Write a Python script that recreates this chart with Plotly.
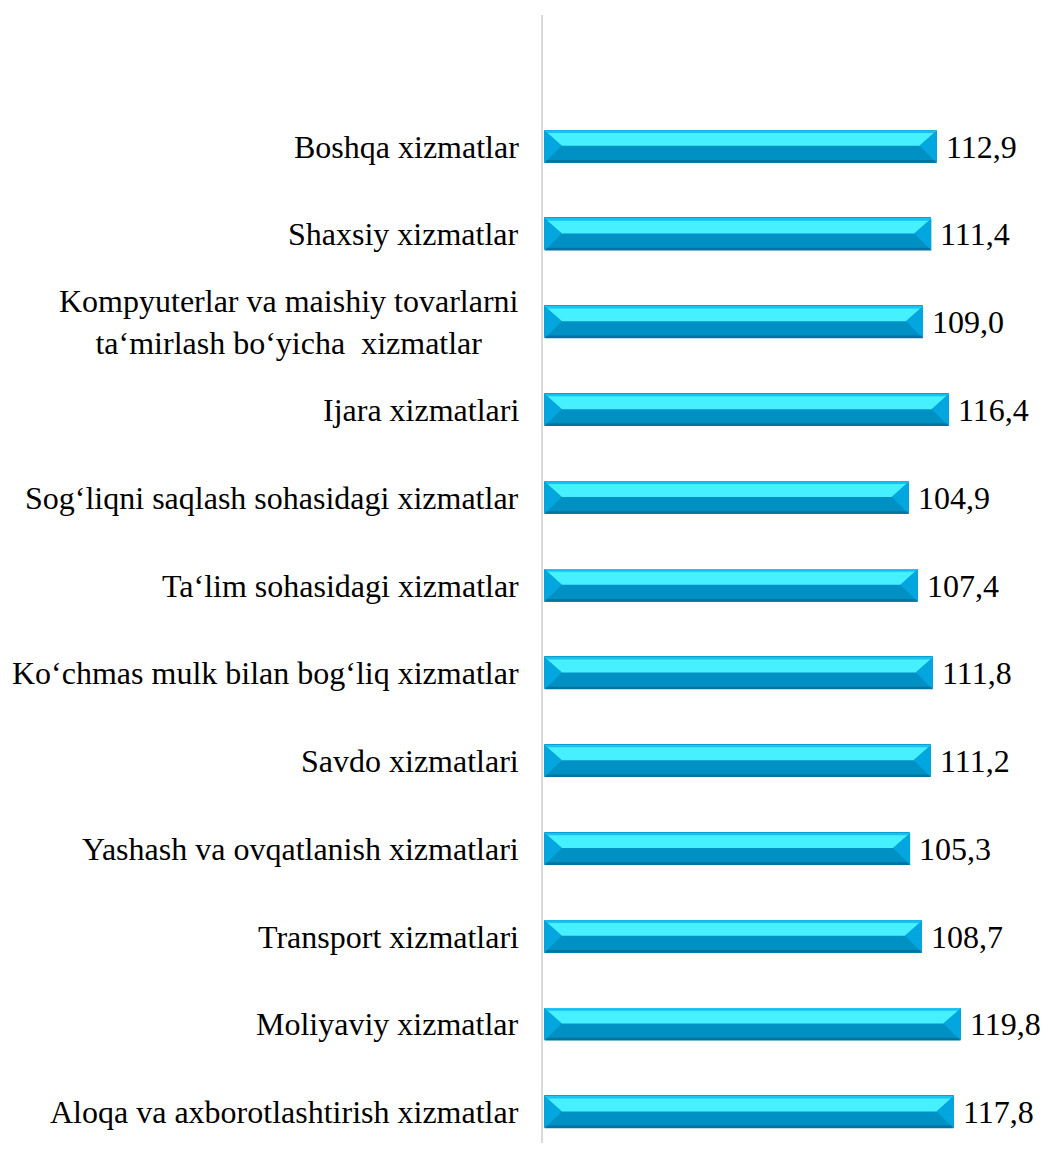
import plotly.graph_objects as go

categories = [
    "Aloqa va axborotlashtirish xizmatlar",
    "Moliyaviy xizmatlar",
    "Transport xizmatlari",
    "Yashash va ovqatlanish xizmatlari",
    "Savdo xizmatlari",
    "Ko‘chmas mulk bilan bog‘liq xizmatlar",
    "Ta‘lim sohasidagi xizmatlar",
    "Sog‘liqni saqlash sohasidagi xizmatlar",
    "Ijara xizmatlari",
    "Kompyuterlar va maishiy tovarlarni<br>ta‘mirlash bo‘yicha&nbsp; xizmatlar",
    "Shaxsiy xizmatlar",
    "Boshqa xizmatlar",
]
values = [117.8, 119.8, 108.7, 105.3, 111.2, 111.8, 107.4, 104.9, 116.4, 109.0, 111.4, 112.9]

positions = list(range(len(categories)))
FONT = "Liberation Serif, Times New Roman, serif"
H = 0.182      # half bar thickness (y units)
D = 4.9        # bevel inset (x units)

fig = go.Figure()
fig.add_trace(go.Bar(
    y=positions, x=values, orientation="h", width=2 * H,
    marker=dict(color="#0091C4", line=dict(color="#0A9ED4", width=1)),
    hoverinfo="skip", showlegend=False,
))

shapes = []
annotations = []
for p, v, c in zip(positions, values, categories):
    top, mid, bot = p + H, p + 0.01, p - H
    shapes.append(dict(type="path", xref="x", yref="y", layer="above",
                       path=f"M 0,{top} L {v},{top} L {v-D},{mid} L {D},{mid} Z",
                       fillcolor="#47F0FF", line=dict(width=0)))
    shapes.append(dict(type="path", xref="x", yref="y", layer="above",
                       path=f"M 0,{top} L {v},{top} L {v-0.6},{top-0.025} L 0.6,{top-0.025} Z",
                       fillcolor="#18C0F0", line=dict(width=0)))
    shapes.append(dict(type="path", xref="x", yref="y", layer="above",
                       path=f"M 0,{top} L {D},{mid} L 0,{bot} Z",
                       fillcolor="#03A6DE", line=dict(width=0)))
    shapes.append(dict(type="path", xref="x", yref="y", layer="above",
                       path=f"M {v},{top} L {v-D},{mid} L {v},{bot} Z",
                       fillcolor="#03A6DE", line=dict(width=0)))
    shapes.append(dict(type="path", xref="x", yref="y", layer="above",
                       path=f"M 0,{bot} L {v},{bot} L {v-0.6},{bot+0.03} L 0.6,{bot+0.03} Z",
                       fillcolor="#00739E", line=dict(width=0)))
    annotations.append(dict(x=v, y=p, xref="x", yref="y", xanchor="left", yanchor="middle",
                            xshift=7, showarrow=False,
                            text=f"{v:.1f}".replace(".", ","),
                            font=dict(family=FONT, size=32, color="black")))
    annotations.append(dict(x=0, y=p, xref="paper", yref="y", xanchor="right", yanchor="middle",
                            xshift=-22, showarrow=False, align="center", text=c,
                            font=dict(family=FONT, size=32, color="black")))

fig.update_layout(
    width=1041, height=1135,
    margin=dict(l=535, r=1, t=7, b=0),
    paper_bgcolor="white", plot_bgcolor="white",
    shapes=shapes, annotations=annotations,
    xaxis=dict(range=[-0.5, 145], visible=False, fixedrange=True),
    yaxis=dict(range=[-0.35, 12.5], showticklabels=False, showgrid=False, zeroline=False,
               showline=True, linecolor="#D9D9D9", linewidth=2, ticks="", fixedrange=True),
    bargap=0,
)

fig.write_html("out.html")
